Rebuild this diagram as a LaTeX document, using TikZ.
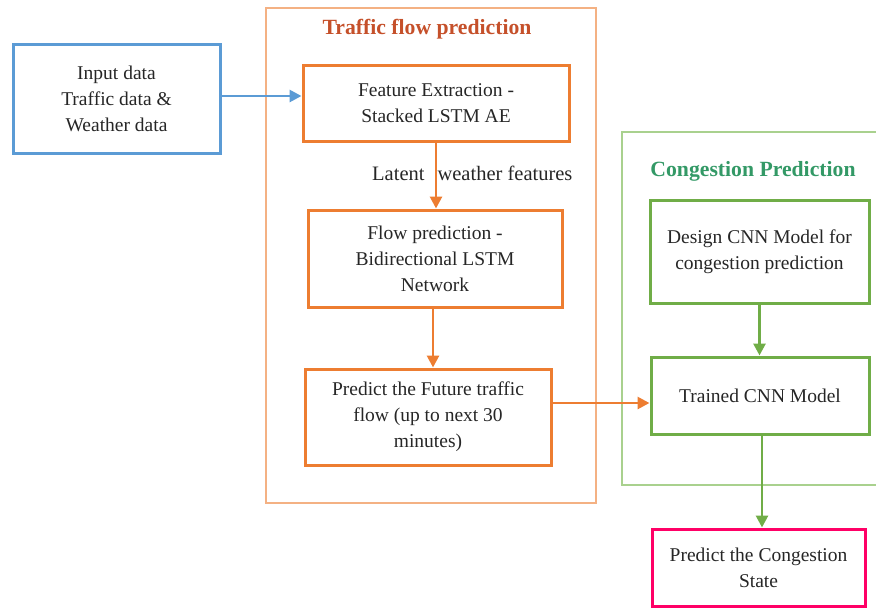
\documentclass[tikz,border=0pt]{standalone}
\usepackage{fontspec}
\setmainfont{Liberation Serif}
\usetikzlibrary{arrows.meta}
\definecolor{cblue}{HTML}{5B9BD5}
\definecolor{corange}{HTML}{ED7D31}
\definecolor{cframeo}{HTML}{F4B183}
\definecolor{ctitleo}{HTML}{C5502A}
\definecolor{cgreen}{HTML}{70AD47}
\definecolor{cframeg}{HTML}{A9D18E}
\definecolor{ctitleg}{HTML}{339966}
\definecolor{cpink}{HTML}{FF0066}
\tikzset{
  box/.style={draw, line width=3pt, align=center, inner sep=2pt,
    font=\fontsize{19.5}{26}\selectfont, text=black!85},
  bluebox/.style={box, draw=cblue},
  orangebox/.style={box, draw=corange},
  greenbox/.style={box, draw=cgreen},
  pinkbox/.style={box, draw=cpink},
  frame/.style={line width=1.1pt},
  conn/.style={line width=2.8pt, -{Triangle[length=12pt,width=12pt]}},
  ttl/.style={font=\fontsize{21.7}{26}\selectfont\bfseries, inner sep=0pt}
}
\begin{document}
\begin{tikzpicture}[x=1pt,y=-1pt]
\useasboundingbox (0,0) rectangle (876,608);
\begin{scope}
\clip (0,0) rectangle (876,608);
\draw[frame, draw=cframeo] (266,8) rectangle (596,503);
\draw[frame, draw=cframeg] (622,132) rectangle (890,485);
\end{scope}
\node[ttl, text=ctitleo] (t1) at (427,29) {Traffic flow prediction};
\node[ttl, text=ctitleg] (t2) at (753,171) {Congestion Prediction};

\node[bluebox, minimum width=207pt, minimum height=109pt] (input) at (116.5,98.5)
  {Input data\\Traffic data \&\\Weather data};
\node[orangebox, minimum width=266pt, minimum height=76pt] (feat) at (436,103)
  {Feature Extraction -\\Stacked LSTM AE};
\node[orangebox, minimum width=254pt, minimum height=97pt] (flow) at (435,258.5)
  {Flow prediction -\\Bidirectional LSTM\\Network};
\node[orangebox, minimum width=246pt, minimum height=96pt] (pred) at (428,417)
  {Predict the Future traffic\\flow (up to next 30\\minutes)};
\node[greenbox, minimum width=219pt, minimum height=103pt] (design) at (759.5,251.5)
  {Design CNN Model for\\congestion prediction};
\node[greenbox, minimum width=218pt, minimum height=77pt] (trained) at (760,395.5)
  {Trained CNN Model};
\node[pinkbox, minimum width=213pt, minimum height=77pt] (state) at (758.5,567.5)
  {Predict the Congestion\\State};

\node[anchor=west, inner sep=0pt, font=\fontsize{20.5}{26}\selectfont, text=black!85] (lat) at (372,173)
  {Latent\hspace{13pt}weather features};

\draw[conn, draw=cblue, color=cblue] ([yshift=2.5pt]input.east) -- ([yshift=2.5pt]input.east -| feat.west);
\draw[conn, draw=corange, color=corange] (feat.south) -- (feat.south |- flow.north);
\draw[conn, draw=corange, color=corange] ([xshift=-2pt]flow.south) -- ([xshift=-2pt]flow.south |- pred.north);
\draw[conn, draw=corange, color=corange] ([yshift=14pt]pred.east) -- ([yshift=14pt]pred.east -| trained.west);
\draw[conn, draw=cgreen, color=cgreen] (design.south) -- (design.south |- trained.north);
\draw[conn, draw=cgreen, color=cgreen] ([xshift=2pt]trained.south) -- ([xshift=2pt]trained.south |- state.north);
\end{tikzpicture}
\end{document}
